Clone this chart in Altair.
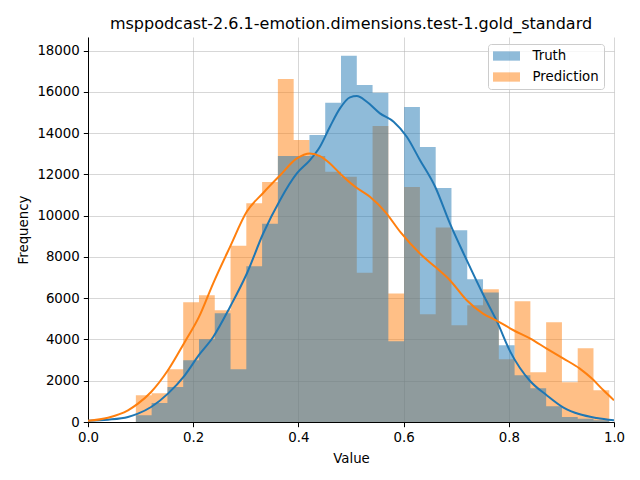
import altair as alt
import pandas as pd

# ---- data ----
series_names = ["Truth", "Prediction"]
series_colors = ["#1f77b4", "#ff7f0e"]

bin_edges = [0.091, 0.121, 0.151, 0.181, 0.211, 0.241, 0.271, 0.301, 0.331, 0.361,
             0.391, 0.421, 0.451, 0.481, 0.511, 0.541, 0.571, 0.601, 0.631, 0.661,
             0.691, 0.721, 0.751, 0.781, 0.811, 0.841, 0.871, 0.901, 0.931, 0.961, 0.991]

truth_counts = [323, 922, 1698, 2992, 4010, 5271, 2555, 7552, 9605, 12888,
                12888, 13906, 15475, 17756, 16332, 15960, 3913, 15265, 13324, 11336,
                9298, 6921, 6274, 3719, 2264, 1633, 760, 243, 162, 80]

pred_counts = [1294, 1391, 2555, 5805, 6145, 5417, 8538, 10608, 11627, 16623,
               13664, 12888, 12128, 11886, 7228, 14343, 6225, 11384, 5223, 9427,
               4689, 5660, 6436, 3040, 5854, 2409, 4835, 1924, 3574, 1536]

truth_kde_x = [0.0, 0.038, 0.076, 0.095, 0.12, 0.152, 0.184, 0.211, 0.238, 0.27,
               0.302, 0.333, 0.365, 0.397, 0.422, 0.441, 0.46, 0.479, 0.498, 0.511,
               0.53, 0.555, 0.581, 0.606, 0.631, 0.66, 0.688, 0.72, 0.751, 0.777,
               0.803, 0.84, 0.872, 0.904, 0.935, 0.967, 1.0]
truth_kde_y = [60, 113, 243, 404, 727, 1376, 2264, 3250, 4123, 5577,
               7196, 9136, 10753, 12047, 12693, 13340, 14310, 15200, 15735, 15800,
               15522, 14958, 14553, 13825, 12700, 11400, 9622, 7843, 6190, 4900,
               3400, 2000, 1300, 700, 372, 194, 80]

pred_kde_x = [0.0, 0.038, 0.076, 0.095, 0.12, 0.152, 0.184, 0.211, 0.238, 0.27,
              0.302, 0.333, 0.365, 0.397, 0.422, 0.441, 0.46, 0.479, 0.508, 0.536,
              0.565, 0.594, 0.631, 0.66, 0.688, 0.72, 0.751, 0.776, 0.809, 0.841,
              0.872, 0.904, 0.935, 0.958, 0.98, 1.0]
pred_kde_y = [60, 210, 566, 889, 1455, 2506, 3880, 5093, 6722, 8489,
              10200, 11100, 11950, 12775, 13016, 12888, 12532, 12047, 11400, 10915,
              10186, 9200, 8166, 7519, 6872, 5902, 5255, 4930, 4447, 4043,
              3558, 3073, 2588, 2103, 1536, 1051]

x_ticks = [0.0, 0.2, 0.4, 0.6, 0.8, 1.0]
y_ticks = [0, 2000, 4000, 6000, 8000, 10000, 12000, 14000, 16000, 18000]
title_text = "msppodcast-2.6.1-emotion.dimensions.test-1.gold_standard"

# ---- tables (step outline: each bin's count starts at its left edge,
#      the last count is held to the final right edge) ----
def hist_table(name, counts):
    return pd.DataFrame({
        "series": [name] * len(bin_edges),
        "x0": bin_edges,
        "count": counts + counts[-1:],
    })

truth_hist = hist_table("Truth", truth_counts)
pred_hist = hist_table("Prediction", pred_counts)
truth_kde = pd.DataFrame({"x0": truth_kde_x, "count": truth_kde_y})
pred_kde = pd.DataFrame({"x0": pred_kde_x, "count": pred_kde_y})

FONT = "DejaVu Sans"

x_enc = alt.X("x0:Q",
              scale=alt.Scale(domain=[0, 1], nice=False, zero=False),
              axis=alt.Axis(values=x_ticks, format=".1f", title="Value", labelFlush=False))
y_enc = alt.Y("count:Q",
              scale=alt.Scale(domain=[0, 18660], nice=False),
              axis=alt.Axis(values=y_ticks, format="d", title="Frequency", labelFlush=False))

legend_symbol = "M-1.93,-0.664L1.93,-0.664L1.93,0.664L-1.93,0.664Z"
color_enc = alt.Color(
    "series:N",
    scale=alt.Scale(domain=series_names, range=series_colors),
    legend=alt.Legend(
        title=None, orient="none", legendX=400, legendY=7,
        symbolType=legend_symbol, symbolSize=196, symbolStrokeWidth=0,
        symbolOpacity=0.5, symbolOffset=6.5, labelOffset=19,
        padding=5, rowPadding=7,
        strokeColor="#cccccc", fillColor="rgba(255,255,255,0.8)", cornerRadius=3,
        labelFont=FONT, labelFontSize=13.33, labelColor="black",
    ),
)

def hist_layer(df):
    return alt.Chart(df).mark_area(opacity=0.5, interpolate="step-after",
                                   orient="vertical").encode(
        x=x_enc, y=y_enc, y2=alt.datum(0), color=color_enc
    )

def line_layer(df, col):
    return alt.Chart(df).mark_line(strokeWidth=2, interpolate="monotone", clip=True).encode(
        x=x_enc, y=y_enc, color=alt.value(col)
    )

chart = alt.layer(
    hist_layer(pred_hist),
    hist_layer(truth_hist),
    line_layer(truth_kde, series_colors[0]),
    line_layer(pred_kde, series_colors[1]),
).properties(
    width=526,
    height=385,
    autosize=alt.AutoSizeParams(type="none"),
    padding={"left": 80, "top": 29, "right": 18, "bottom": 50},
    title=alt.Title(title_text, font=FONT, fontSize=16, fontWeight="normal",
                    color="black", anchor="middle", frame="group",
                    baseline="alphabetic", offset=-8),
).configure_view(
    stroke=None
).configure_axis(
    domainColor="black", domainWidth=1,
    tickColor="black", tickWidth=1, tickSize=4.7,
    labelFont=FONT, labelFontSize=13.33, labelColor="black", labelPadding=4,
    titleFont=FONT, titleFontSize=13.33, titleFontWeight="normal", titleColor="black",
    gridColor="#b0b0b0", gridOpacity=0.5, gridWidth=1,
).configure_axisX(
    titlePadding=7
).configure_axisY(
    titlePadding=6
)

chart.save("out.html", embed_options={"renderer": "svg", "actions": False})
